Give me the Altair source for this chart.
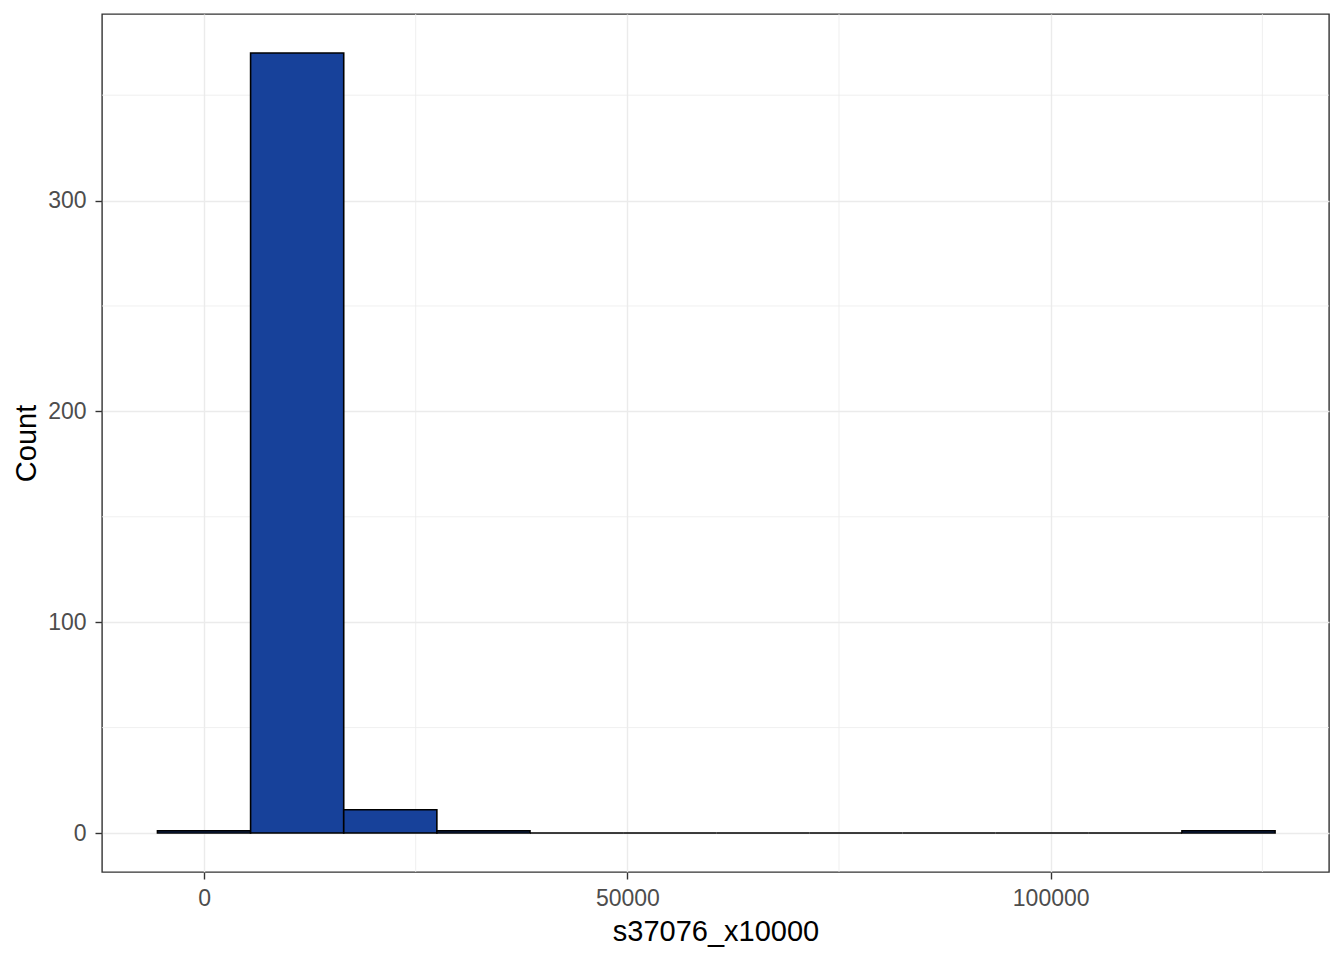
import altair as alt
import pandas as pd

bin_start = [-5500, 5500, 16500, 27500, 38500, 49500, 60500, 71500, 82500, 93500, 104500, 115500]
bin_end = [5500, 16500, 27500, 38500, 49500, 60500, 71500, 82500, 93500, 104500, 115500, 126500]
counts = [1, 370, 11, 1, 0, 0, 0, 0, 0, 0, 0, 1]

x_major = [0, 50000, 100000]
x_minor = [25000, 75000, 125000]
y_major = [0, 100, 200, 300]
y_minor = [50, 150, 250, 350]

bars = pd.DataFrame({"start": bin_start, "end": bin_end, "count": counts})
xm = pd.DataFrame({"v": x_minor})
ym = pd.DataFrame({"v": y_minor})

XDOM = [-12050, 132870]
YDOM = [-18.5, 388.5]
FONT = "Liberation Sans"

xscale = alt.Scale(domain=XDOM, nice=False, zero=False)
yscale = alt.Scale(domain=YDOM, nice=False, zero=False)

xaxis = alt.Axis(values=x_major, format="d", title="s37076_x10000",
                 grid=True, gridColor="#EBEBEB", gridWidth=1.4,
                 domain=False, ticks=True, tickColor="#333333", tickWidth=1.4, tickSize=7,
                 labelColor="#4D4D4D", labelFontSize=23, labelFont=FONT, labelPadding=8,
                 titleFont=FONT, titleFontSize=29, titleColor="#000000", titleFontWeight="normal",
                 titlePadding=7)
yaxis = alt.Axis(values=y_major, format="d", title="Count",
                 grid=True, gridColor="#EBEBEB", gridWidth=1.4,
                 domain=False, ticks=True, tickColor="#333333", tickWidth=1.4, tickSize=7,
                 labelColor="#4D4D4D", labelFontSize=23, labelFont=FONT, labelPadding=9,
                 titleFont=FONT, titleFontSize=29, titleColor="#000000", titleFontWeight="normal",
                 titlePadding=6)

minor_x = alt.Chart(xm).mark_rule(color="#EBEBEB", strokeWidth=0.8).encode(
    x=alt.X("v:Q", scale=xscale, axis=xaxis))
minor_y = alt.Chart(ym).mark_rule(color="#EBEBEB", strokeWidth=0.8).encode(
    y=alt.Y("v:Q", scale=yscale, axis=yaxis))

hist = alt.Chart(bars).mark_rect(fill="#17419A", stroke="#000000", strokeWidth=1.6).encode(
    x=alt.X("start:Q", scale=xscale, axis=xaxis),
    x2="end:Q",
    y=alt.Y("count:Q", scale=yscale, axis=yaxis),
    y2=alt.datum(0),
)

chart = alt.layer(minor_x, minor_y, hist).properties(
    width=1227, height=858,
    autosize=alt.AutoSizeParams(type="none"),
    padding={"left": 94, "top": 6, "right": 7, "bottom": 80},
).configure(background="white").configure_view(stroke="#333333", strokeWidth=1.4)

chart.save("out.html", embed_options={"renderer": "svg", "actions": False})
